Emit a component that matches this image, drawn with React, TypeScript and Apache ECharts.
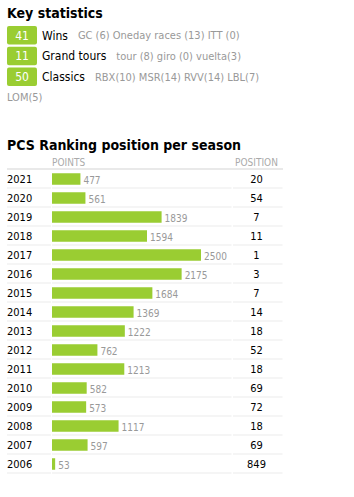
import React, { useEffect, useRef } from "react";
import * as echarts from "echarts";

const years = ["2021", "2020", "2019", "2018", "2017", "2016", "2015", "2014", "2013", "2012", "2011", "2010", "2009", "2008", "2007", "2006"];
const points = [477, 561, 1839, 1594, 2500, 2175, 1684, 1369, 1222, 762, 1213, 582, 573, 1117, 597, 53];
const positions = [20, 54, 7, 11, 1, 3, 7, 14, 18, 52, 18, 69, 72, 18, 69, 849];

const statCounts = [41, 11, 50];
const statLabels = ["Wins", "Grand tours", "Classics"];
const statDetails = ["GC (6) Oneday races (13) ITT (0)", "tour (8) giro (0) vuelta(3)", "RBX(10) MSR(14) RVV(14) LBL(7)"];
const statOverflow = "LOM(5)";

const FONT = "Tahoma, 'DejaVu Sans Condensed', 'Liberation Sans', sans-serif";
const GREEN = "#9acd32";

const GRID_LEFT = 52;
const GRID_TOP = 169.5;
const ROW_H = 19;
const GRID_W = 149;
const X_MAX = 2500;

export default function App() {
  const ref = useRef<HTMLDivElement>(null);
  useEffect(() => {
    if (!ref.current) return;
    const chart = echarts.init(ref.current, null, { renderer: "svg" });
    const n = years.length;
    const graphic: any[] = [];
    graphic.push({
      type: "text", x: 7, y: 13,
      style: { text: "Key statistics", font: `bold 14px ${FONT}`, fill: "#000", verticalAlign: "middle" },
    });
    statCounts.forEach((c, i) => {
      const top = 26 + i * 20.8;
      graphic.push({ type: "rect", shape: { x: 7, y: top, width: 30, height: 18.5, r: 2 }, style: { fill: GREEN } });
      graphic.push({
        type: "text", x: 22, y: top + 9.5,
        style: { text: String(c), font: `12px ${FONT}`, fill: "#fff", align: "center", verticalAlign: "middle" },
      });
      graphic.push({
        type: "text", x: 42, y: top + 9.5,
        style: {
          text: `{l|${statLabels[i]}}{d|${statDetails[i]}}`,
          verticalAlign: "middle",
          rich: {
            l: { fontFamily: FONT, fontSize: 12, fill: "#000", color: "#000" },
            d: { fontFamily: FONT, fontSize: 11, fill: "#999", color: "#999", padding: [0, 0, 0, 10] },
          },
        },
      });
    });
    graphic.push({
      type: "text", x: 7, y: 97,
      style: { text: statOverflow, font: `11px ${FONT}`, fill: "#999", verticalAlign: "middle" },
    });
    graphic.push({
      type: "text", x: 7, y: 145,
      style: { text: "PCS Ranking position per season", font: `bold 14px ${FONT}`, fill: "#000", verticalAlign: "middle" },
    });
    graphic.push({
      type: "text", x: 52, y: 162,
      style: { text: "POINTS", font: `10px ${FONT}`, fill: "#aaa", verticalAlign: "middle" },
    });
    graphic.push({
      type: "text", x: 256.5, y: 162,
      style: { text: "POSITION", font: `10px ${FONT}`, fill: "#aaa", verticalAlign: "middle", align: "center" },
    });
    graphic.push({ type: "rect", shape: { x: 7, y: 168.5, width: 276, height: 1 }, style: { fill: "#d4d4d4" } });
    for (let k = 1; k <= n; k++) {
      const y = GRID_TOP + k * ROW_H - 1;
      graphic.push({ type: "rect", shape: { x: 7, y, width: 44, height: 1 }, style: { fill: "#ececec" } });
      graphic.push({ type: "rect", shape: { x: 52, y, width: 179.5, height: 1 }, style: { fill: "#ececec" } });
      graphic.push({ type: "rect", shape: { x: 233, y, width: 49.5, height: 1 }, style: { fill: "#ececec" } });
    }

    chart.setOption({
      animation: false,
      graphic,
      grid: { left: GRID_LEFT, top: GRID_TOP, width: GRID_W, height: n * ROW_H, containLabel: false },
      xAxis: {
        type: "value", min: 0, max: X_MAX, show: false,
      },
      yAxis: [
        {
          type: "category", data: years, inverse: true,
          axisLine: { show: false }, axisTick: { show: false }, splitLine: { show: false },
          axisLabel: { align: "left", margin: 45, fontFamily: FONT, fontSize: 11, color: "#000" },
        },
        {
          type: "category", data: positions.map(String), inverse: true, position: "right",
          axisLine: { show: false }, axisTick: { show: false }, splitLine: { show: false },
          axisLabel: { align: "center", margin: 55.5, fontFamily: FONT, fontSize: 11, color: "#000" },
        },
      ],
      series: [
        {
          type: "bar", data: points, barWidth: 11.5, yAxisIndex: 0,
          itemStyle: { color: GREEN },
          label: { show: true, position: "right", distance: 3, fontFamily: FONT, fontSize: 10, color: "#999", verticalAlign: "middle", offset: [0, 1] },
        },
      ],
    });
    return () => chart.dispose();
  }, []);
  return <div ref={ref} style={{ position: "absolute", left: 0, top: 0, width: 354, height: 497 }} />;
}
